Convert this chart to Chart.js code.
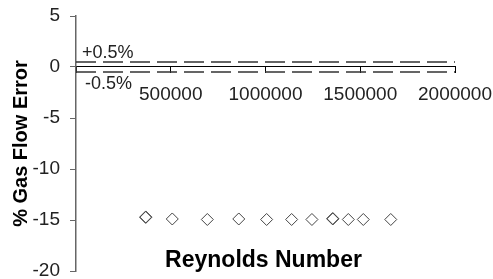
<!DOCTYPE html>
<html>
<head>
<meta charset="utf-8">
<script src="https://cdn.jsdelivr.net/npm/chart.js@4.4.0/dist/chart.umd.min.js"></script>
<style>
body { margin: 0; background: #fff; }
#wrap { width: 493px; height: 279px; }
</style>
</head>
<body>
<div id="wrap"><canvas id="flowChart"></canvas></div>
<script>
// data (two points sit on top of each other at ~368k and ~1355k)
var reynolds = [368000, 368000, 508000, 693000, 859000, 1006000, 1138000, 1245000, 1355000, 1355000, 1437000, 1516000, 1661000];
var gasError = [-14.7, -14.75, -14.9, -14.95, -14.9, -14.95, -14.95, -14.95, -14.85, -14.9, -14.95, -14.95, -14.95];

var limitX = [0, 2000000];
var upperLimit = [0.5, 0.5];
var lowerLimit = [-0.5, -0.5];
var limitLabels = ['+0.5%', '-0.5%'];

var xTicks = [0, 500000, 1000000, 1500000, 2000000];
var yTicks = [5, 0, -5, -10, -15, -20];
var xTitle = 'Reynolds Number';
var yTitle = '% Gas Flow Error';

Chart.defaults.font.family = '"Liberation Sans", Arial, sans-serif';
Chart.defaults.color = '#222';

function pairs(xs, ys) {
    return xs.map(function(x, i) { return {x: x, y: ys[i]}; });
}

// text labels for the +/- band and the bottom axis title
var textPlugin = {
    id: 'textPlugin',
    afterDatasetsDraw: function(chart) {
        var ctx = chart.ctx;
        var xs = chart.scales.x, ys = chart.scales.y;
        ctx.save();
        ctx.fillStyle = '#222';
        ctx.font = '18px "Liberation Sans", Arial, sans-serif';
        ctx.textAlign = 'left';
        ctx.textBaseline = 'alphabetic';
        ctx.fillText(limitLabels[0], xs.left + 6, ys.getPixelForValue(upperLimit[0]) - 4);
        ctx.fillText(limitLabels[1], xs.left + 9, ys.getPixelForValue(lowerLimit[0]) + 17);
        ctx.fillStyle = '#000';
        ctx.font = 'bold 23px "Liberation Sans", Arial, sans-serif';
        ctx.textAlign = 'center';
        ctx.fillText(xTitle, (xs.left + xs.right) / 2 - 2, 267);
        ctx.restore();
    }
};

var ctx = document.getElementById('flowChart').getContext('2d');

var flowChart = new Chart(ctx, {
    type: 'scatter',
    data: {
        datasets: [{
            label: 'Gas flow error',
            data: pairs(reynolds, gasError),
            pointStyle: 'rectRot',
            pointRadius: 6,
            pointBorderWidth: 1,
            borderColor: '#444',
            backgroundColor: 'rgba(255,255,255,0)',
            showLine: false
        }, {
            label: '+0.5%',
            data: pairs(limitX, upperLimit),
            showLine: true,
            pointRadius: 0,
            borderColor: '#333',
            borderWidth: 1.5,
            borderDash: [20, 7]
        }, {
            label: '-0.5%',
            data: pairs(limitX, lowerLimit),
            showLine: true,
            pointRadius: 0,
            borderColor: '#333',
            borderWidth: 1.5,
            borderDash: [20, 7]
        }]
    },
    options: {
        responsive: true,
        maintainAspectRatio: false,
        animation: false,
        layout: { padding: { top: 16, bottom: 8, right: 38, left: 0 } },
        plugins: {
            legend: { display: false },
            tooltip: { enabled: false }
        },
        scales: {
            x: {
                type: 'linear',
                position: { y: 0 },
                min: Math.min.apply(null, xTicks),
                max: Math.max.apply(null, xTicks),
                afterBuildTicks: function(s) { s.ticks = xTicks.map(function(v) { return {value: v}; }); },
                afterFit: function(s) { s.height = 0; s.paddingLeft = 0; s.paddingRight = 0; },
                border: { color: '#000', width: 1 },
                grid: { drawOnChartArea: false, drawTicks: true, tickLength: 6, color: '#000' },
                ticks: {
                    font: { size: 19 },
                    padding: 10,
                    maxRotation: 0,
                    autoSkip: false,
                    callback: function(v) { return v === 0 ? '' : String(v); }
                }
            },
            y: {
                type: 'linear',
                position: 'left',
                min: Math.min.apply(null, yTicks),
                max: Math.max.apply(null, yTicks),
                afterBuildTicks: function(s) { s.ticks = yTicks.map(function(v) { return {value: v}; }); },
                afterFit: function(s) { s.width = 76; s.paddingTop = 0; s.paddingBottom = 0; },
                border: { color: '#666', width: 1.5 },
                grid: { drawOnChartArea: false, drawTicks: true, tickLength: 6, color: '#666' },
                ticks: { font: { size: 19 }, padding: 10 },
                title: {
                    display: true,
                    text: yTitle,
                    color: '#000',
                    font: { size: 20, weight: 'bold' },
                    padding: { top: 9, bottom: 0 }
                }
            }
        }
    },
    plugins: [textPlugin]
});
</script>
</body>
</html>
